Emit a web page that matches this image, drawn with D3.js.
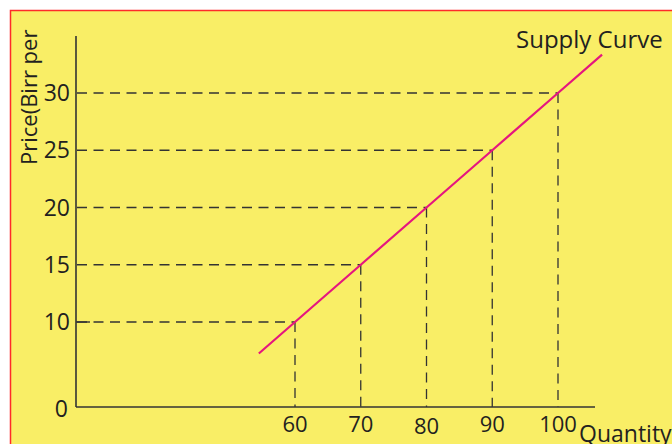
<!DOCTYPE html>
<html>
<head>
<meta charset="utf-8">
<script src="https://cdn.jsdelivr.net/npm/d3@7"></script>
<style>
  body { margin: 0; background: #fff; }
  svg { display: block; font-family: "Open Sans", sans-serif; }
</style>
</head>
<body>
<svg width="672" height="444"></svg>
<script>
// supply schedule (quantity, price)
var quantities = [60, 70, 80, 90, 100];
var prices = [10, 15, 20, 25, 30];
// the drawn curve runs a little past the schedule at both ends
var curveQ = [54.5, 60, 70, 80, 90, 100, 106.7];
var curveP = [7.25, 10, 15, 20, 25, 30, 33.35];
var xTicks = [60, 70, 80, 90, 100];
var yTicks = [0, 10, 15, 20, 25, 30];

var svg = d3.select("svg");

// yellow panel with red frame (right/bottom edges fall off the picture)
svg.append("rect")
    .attr("x", 10.5).attr("y", 10.5)
    .attr("width", 700).attr("height", 500)
    .attr("fill", "#f9ee66")
    .attr("stroke", "#ff2a2a")
    .attr("stroke-width", 1.5);

// both axes are broken: origin sits close to the first labelled value
var xScale = d3.scaleLinear().domain([0, 50, 100]).range([76, 229.25, 558]);
var yScale = d3.scaleLinear().domain([0, 5, 30]).range([407, 379.25, 93]);

var ink = "#333";
var dash = "10,6.5";

// Dashed guides
var pts = quantities.map(function(q, i) { return { q: q, p: prices[i] }; });

svg.selectAll(".hguide")
    .data(pts)
    .enter().append("line")
    .attr("class", "hguide")
    .attr("x1", xScale(0) + 1)
    .attr("x2", function(d) { return xScale(d.q); })
    .attr("y1", function(d) { return yScale(d.p); })
    .attr("y2", function(d) { return yScale(d.p); })
    .attr("stroke", ink)
    .attr("stroke-width", 1.3)
    .attr("stroke-dasharray", dash);

svg.selectAll(".vguide")
    .data(pts)
    .enter().append("line")
    .attr("class", "vguide")
    .attr("x1", function(d) { return xScale(d.q); })
    .attr("x2", function(d) { return xScale(d.q); })
    .attr("y1", function(d) { return yScale(d.p); })
    .attr("y2", yScale(0))
    .attr("stroke", ink)
    .attr("stroke-width", 1.3)
    .attr("stroke-dasharray", dash);

// Supply curve
var curve = curveQ.map(function(q, i) { return [q, curveP[i]]; });
svg.append("path")
    .datum(curve)
    .attr("fill", "none")
    .attr("stroke", "#e5167f")
    .attr("stroke-width", 2.2)
    .attr("d", d3.line()
        .x(function(d) { return xScale(d[0]); })
        .y(function(d) { return yScale(d[1]); }));

// Axes (lines only, labels placed separately)
var xAxis = svg.append("g")
    .attr("transform", "translate(0," + yScale(0) + ")")
    .call(d3.axisBottom(xScale).tickValues(xTicks).tickSize(0).tickFormat(""));
xAxis.select(".domain")
    .attr("d", "M" + xScale(0) + ",0H595")
    .attr("stroke", ink).attr("stroke-width", 1.6);

var yAxis = svg.append("g")
    .attr("transform", "translate(" + xScale(0) + ",0)")
    .call(d3.axisLeft(yScale).tickValues(yTicks).tickSize(0).tickFormat(""));
yAxis.select(".domain")
    .attr("d", "M0,36V" + yScale(0))
    .attr("stroke", ink).attr("stroke-width", 1.6);

// short solid tick at 10
svg.append("line")
    .attr("x1", xScale(0)).attr("x2", xScale(0) + 14)
    .attr("y1", yScale(10)).attr("y2", yScale(10))
    .attr("stroke", ink).attr("stroke-width", 1.4);

// tick labels
svg.selectAll(".ylab")
    .data(yTicks)
    .enter().append("text")
    .attr("class", "ylab")
    .attr("x", function(d) { return d === 0 ? 68 : 70; })
    .attr("y", function(d) { return d === 0 ? yScale(d) + 2 : yScale(d); })
    .attr("dy", "0.35em")
    .attr("text-anchor", "end")
    .attr("font-size", 23)
    .attr("fill", "#231f20")
    .text(function(d) { return d; });

svg.selectAll(".xlab")
    .data(xTicks)
    .enter().append("text")
    .attr("class", "xlab")
    .attr("x", function(d) { return xScale(d); })
    .attr("y", function(d) { return d === 80 ? 434 : 432; })
    .attr("text-anchor", "middle")
    .attr("font-size", 22)
    .attr("fill", "#231f20")
    .text(function(d) { return d; });

// titles
svg.append("text")
    .attr("x", 516).attr("y", 48)
    .attr("font-size", 24)
    .attr("fill", "#231f20")
    .text("Supply Curve");

svg.append("text")
    .attr("x", 579).attr("y", 442)
    .attr("font-size", 23)
    .attr("fill", "#231f20")
    .text("Quantity");

svg.append("text")
    .attr("transform", "translate(37,165) rotate(-90)")
    .attr("font-size", 22)
    .attr("fill", "#231f20")
    .text("Price(Birr per");
</script>
</body>
</html>
